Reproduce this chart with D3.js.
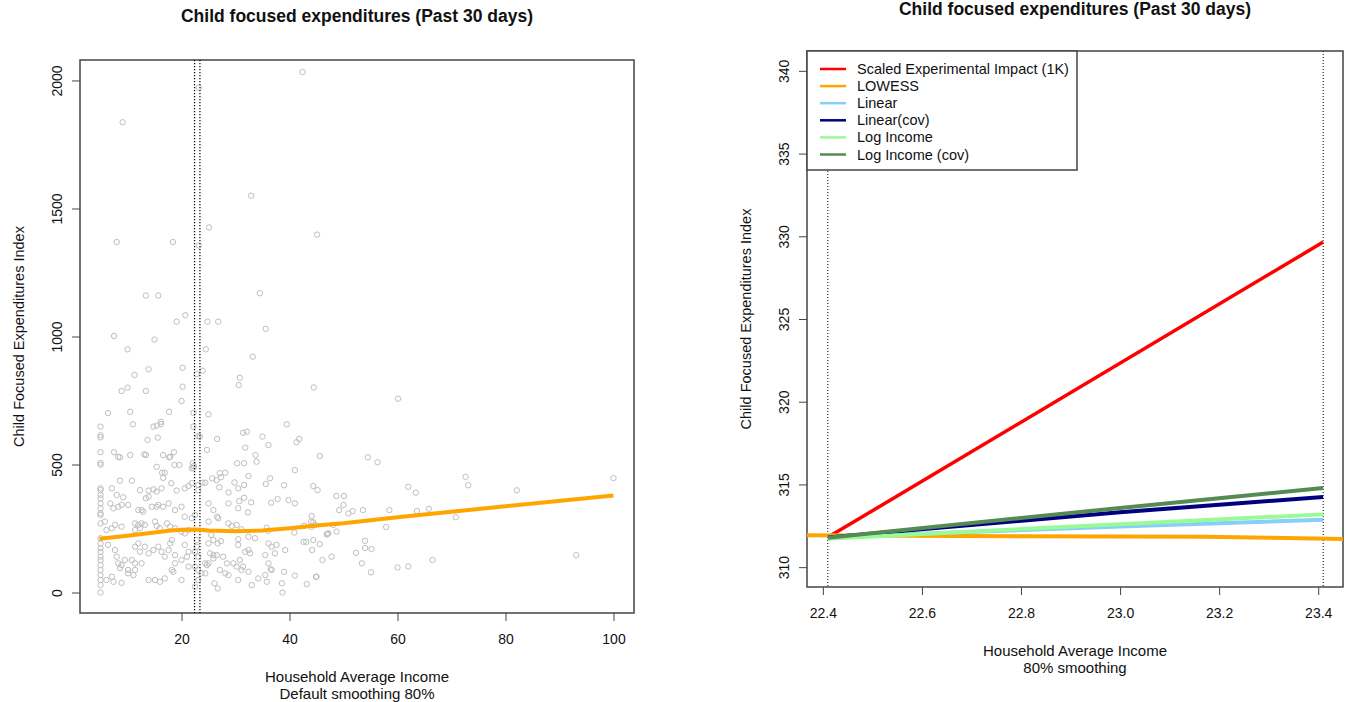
<!DOCTYPE html>
<html>
<head>
<meta charset="utf-8">
<script src="https://cdn.jsdelivr.net/npm/d3@7"></script>
<style>
  body { margin: 0; background: #fff; }
  text { font-family: "Liberation Sans", Arial, sans-serif; fill: #111; }
</style>
</head>
<body>
<div id="chart"></div>
<script>
// ---- data ----
var chartTitle = "Child focused expenditures (Past 30 days)";
var yTitle = "Child Focused Expenditures Index";

// left panel: household income vs expenditure index (scatter)
var householdPoints = [
  [9.1,1837],[42.4,2033],[23.2,1972],[32.9,1550],[25.1,1426],[45.1,1398],[8.0,1369],[18.4,1369],[23.2,1355],
  [13.4,1160],[15.7,1160],[34.5,1169],[20.7,1083],[19.1,1058],[24.8,1058],[26.8,1058],[35.6,1030],[7.5,1002],
  [15.0,988],[24.5,950],[10.0,950],[33.2,921],[11.3,850],[13.9,872],[20.2,878],[23.9,866],[22.8,853],[30.8,839],
  [30.6,810],[20.2,804],[8.9,787],[10.0,800],[13.4,787],[20.0,748],[44.5,801],[60.1,757],[6.4,701],[10.5,706],
  [17.7,706],[22.2,702],[25.0,696],[11.0,657],[5.0,648],[5.0,614],[5.0,606],[14.8,648],[15.4,652],[16.2,658],
  [16.2,667],[15.6,605],[13.7,596],[22.2,648],[23.4,609],[26.6,600],[31.4,624],[32.1,628],[35.0,609],[36.1,576],
  [39.5,657],[41.3,587],[41.8,600],[45.6,533],[24.7,557],[5.0,548],[5.0,499],[5.0,506],[7.5,548],[8.3,530],
  [8.6,528],[10.5,537],[13.4,537],[16.6,537],[17.9,530],[18.6,548],[18.7,498],[19.6,498],[21.9,485],[22.3,494],
  [22.1,505],[30.3,505],[31.6,505],[32.4,455],[33.7,537],[33.9,511],[36.4,446],[35.6,424],[39.0,419],[41.0,478],
  [44.4,416],[45.2,400],[48.7,377],[23.1,611],[31.8,566],[54.5,528],[56.3,509],[72.6,452],[73.1,419],[62.0,413],
  [63.4,390],[82.1,399],[100.0,447],
  [13.1,540],[17.7,528],[15.4,491],[16.4,468],[16.9,468],[16.6,448],[22.2,487],
  [5.0,407],[5.0,400],[5.0,381],[5.0,368],[8.6,437],[10.8,437],[7.1,407],[8.0,381],[9.2,372],[12.3,400],
  [13.9,398],[14.8,403],[15.4,394],[13.4,368],[13.9,374],[16.3,407],[18.1,427],[19.1,398],[20.6,407],[21.3,416],
  [21.9,427],[23.1,420],[23.1,400],[23.9,429],
  [5.0,348],[5.0,329],[5.0,309],[5.0,303],[6.8,348],[7.4,329],[8.3,335],[8.9,342],[10.1,342],[12.0,322],
  [12.6,322],[12.9,316],[14.5,335],[15.4,335],[15.7,342],[16.6,335],[17.6,348],[18.8,322],[20.0,335],[20.6,296],
  [21.9,290],[22.5,303],
  [5.0,270],[5.8,277],[6.1,244],[7.1,251],[7.7,264],[8.9,257],[11.4,270],[12.0,264],[12.6,270],[13.2,264],
  [11.4,244],[12.3,251],[15.1,277],[15.4,260],[16.0,251],[17.3,270],[17.9,257],[18.8,251],[20.0,237],[20.6,231],
  [21.3,244],
  [5.0,212],[5.0,192],[5.0,173],[5.0,159],[5.0,140],[5.0,127],[5.0,107],[5.0,88],[5.0,68],[5.0,49],[5.0,29],[5.0,0],
  [6.4,186],[7.7,166],[8.0,140],[8.3,114],[8.9,107],[9.5,127],[8.6,95],[10.1,88],[10.8,127],[11.4,114],
  [11.4,179],[12.0,192],[12.3,159],[13.2,179],[13.9,153],[14.8,166],[15.7,179],[16.3,159],[16.9,140],[17.6,166],
  [17.9,192],[18.2,205],[18.8,146],
  [10.1,75],[11.1,68],[11.4,88],[12.6,114],[13.9,49],[15.1,49],[16.0,42],[16.9,55],[18.2,88],[18.5,81],[20.0,49],
  [7.4,42],[8.9,38],[7.1,62],[6.1,49],
  [22.8,205],[22.8,179],[22.5,159],[23.1,140],[22.5,101],[23.1,88],[23.1,49],[22.5,23],[23.7,75],[24.4,114],
  [25.9,146],[25.9,205],[20.6,186],[21.3,159],[21.0,140],[20.0,127],[18.8,114],[21.3,101],
  [27.1,466],[28.1,468],[25.7,446],[26.5,439],[27.3,450],[24.4,429],[29.8,430],[30.5,407],[31.6,420],[27.0,411],
  [28.7,391],[31.6,370],[32.9,352],[30.7,357],[30.5,329],[32.3,313],[25.0,348],[25.9,322],[28.7,348],[36.6,351],
  [37.8,365],[39.8,361],[41.0,348],
  [26.6,296],[26.8,290],[25.0,277],[44.1,299],[44.0,277],[28.7,270],[29.3,260],[30.2,264],[31.1,247],[35.8,253],
  [36.1,241],[40.9,234],[42.7,261],[44.1,257],[44.7,264],[46.9,227],[48.1,264],
  [25.5,225],[27.3,201],[26.7,192],[25.0,192],[30.5,208],[30.5,186],[32.4,218],[33.6,212],[32.4,166],
  [36.1,192],[36.7,179],[37.6,186],[39.2,166],[37.3,153],[35.5,146],[36.1,114],[36.7,88],[35.5,68],
  [42.6,198],[43.1,198],[44.4,205],[45.6,189],[44.2,166],[46.1,127],[47.8,140],
  [25.3,153],[26.5,146],[25.9,133],[27.7,140],[28.4,114],[25.0,114],[27.1,88],[28.1,75],[28.7,68],
  [29.6,114],[30.2,101],[30.8,127],[31.8,159],[32.7,153],[31.4,101],[32.4,81],[30.5,49],[31.1,88],
  [34.2,55],[35.8,42],[33.0,29],[38.6,36],[41.0,66],[43.2,33],[45.0,62],[38.7,0],
  [26.1,36],[26.7,16],[24.4,75],[24.7,107],
  [50.1,377],[50.0,342],[49.2,322],[50.9,309],[51.7,318],[53.6,322],[58.5,322],[63.6,318],[65.8,327],[44.4,274],
  [70.8,294],[57.9,256],[47.0,229],[48.7,238],[54.0,202],[54.0,174],[55.2,170],[52.3,155],[53.4,114],[55.1,79],
  [60.0,98],[62.0,102],[66.5,127],[93.1,146],[44.9,61],[36.5,91],[39.0,81],[47.2,231]
];

// left panel: LOWESS fit
var lowessLeft = [
  [4.8,210],[10,222],[15,234],[18,242],[20,245],[23,246],[25,242],[30,239],[35,242],
  [40,251],[45,262],[50,271],[60,294],[80,337],[100,379]
];

var cutoffs = [22.41, 23.41];

var leftXTicks = [20, 40, 60, 80, 100];
var leftYTicks = [0, 500, 1000, 1500, 2000];
var leftXLabel = ["Household Average Income", "Default smoothing 80%"];

// right panel: zoomed-in fits
var seriesNames = ["Scaled Experimental Impact (1K)", "LOWESS", "Linear", "Linear(cov)", "Log Income", "Log Income (cov)"];
var seriesColors = ["#FF0000", "#FFA500", "#87CEFA", "#000080", "#98FB98", "#548B54"];
var experimental = [[22.41,311.8],[23.41,329.65]];
var lowessRight = [[22.368,311.93],[22.56,311.9],[22.8,311.87],[23.17,311.84],[23.3,311.78],[23.45,311.7]];
var linearFit = [[22.41,311.82],[23.0,312.45],[23.41,312.87]];
var linearCov = [[22.41,311.8],[23.0,313.32],[23.41,314.24]];
var logFit = [[22.41,311.72],[23.0,312.6],[23.41,313.19]];
var logCov = [[22.41,311.78],[23.0,313.58],[23.41,314.78]];
var rightSeries = [experimental, lowessRight, linearFit, linearCov, logFit, logCov];

var rightXTicks = [22.4, 22.6, 22.8, 23.0, 23.2, 23.4];
var rightYTicks = [310, 315, 320, 325, 330, 335, 340];
var rightXLabel = ["Household Average Income", "80% smoothing"];

// ---- drawing ----
var width = 1350, height = 702;
var svg = d3.select("#chart").append("svg")
  .attr("width", width)
  .attr("height", height);

var frameColor = "#444";

// scales (pixel box of each panel lives in the range)
var xL = d3.scaleLinear().domain([1.2, 103.8]).range([80, 634]);
var yL = d3.scaleLinear().domain([-80, 2080]).range([613, 60]);
var xR = d3.scaleLinear().domain([22.368, 23.45]).range([807, 1343]);
var yR = d3.scaleLinear().domain([308.8, 341.2]).range([587, 51]);

// axes, box, titles for one panel
function drawFrame(x, y, xTicks, yTicks, xFmt, title, xLabel, titleY) {
  var g = svg.append("g");
  var x0 = x.range()[0], x1 = x.range()[1];
  var y0 = y.range()[1], y1 = y.range()[0];

  g.append("g")
    .attr("transform", "translate(0," + y1 + ")")
    .call(d3.axisBottom(x).tickValues(xTicks).tickFormat(xFmt).tickSize(8).tickPadding(13).tickSizeOuter(0))
    .call(function(a) {
      a.select(".domain").remove();
      a.attr("font-size", 14).attr("font-family", null).attr("color", frameColor);
      a.selectAll("text").style("fill", "#111");
    });

  g.append("g")
    .attr("transform", "translate(" + x0 + ",0)")
    .call(d3.axisLeft(y).tickValues(yTicks).tickFormat(d3.format("d")).tickSize(8).tickSizeOuter(0))
    .call(function(a) {
      a.select(".domain").remove();
      a.attr("font-size", 14).attr("font-family", null).attr("color", frameColor);
      a.selectAll("text")
        .attr("x", 0).attr("y", -18).attr("dy", null)
        .attr("transform", "rotate(-90)")
        .attr("text-anchor", "middle")
        .style("fill", "#111");
    });

  g.append("rect")
    .attr("x", x0).attr("y", y0)
    .attr("width", x1 - x0).attr("height", y1 - y0)
    .attr("fill", "none")
    .attr("stroke", frameColor)
    .attr("stroke-width", 1.5);

  var cx = (x0 + x1) / 2;
  svg.append("text")
    .attr("x", cx).attr("y", titleY)
    .attr("text-anchor", "middle")
    .attr("font-size", 17.5).attr("font-weight", "bold")
    .text(title);

  svg.selectAll(null)
    .data(xLabel)
    .join("text")
    .attr("x", cx)
    .attr("y", function(d, i) { return y1 + 69 + i * 17; })
    .attr("text-anchor", "middle")
    .attr("font-size", 15)
    .text(function(d) { return d; });

  svg.append("text")
    .attr("transform", "translate(" + (x0 - 56) + "," + ((y0 + y1) / 2) + ") rotate(-90)")
    .attr("text-anchor", "middle")
    .attr("font-size", 14.5)
    .text(yTitle);
}

// ---------- left panel ----------
drawFrame(xL, yL, leftXTicks, leftYTicks, d3.format("d"), chartTitle, leftXLabel, 22);

svg.append("g")
  .selectAll("circle")
  .data(householdPoints)
  .join("circle")
    .attr("cx", function(d) { return xL(d[0]); })
    .attr("cy", function(d) { return yL(d[1]); })
    .attr("r", 2.7)
    .attr("fill", "none")
    .attr("stroke", "#BEBEBE")
    .attr("stroke-width", 1);

svg.append("g")
  .selectAll("line")
  .data(cutoffs)
  .join("line")
    .attr("x1", function(d) { return xL(d); })
    .attr("x2", function(d) { return xL(d); })
    .attr("y1", yL.range()[1])
    .attr("y2", yL.range()[0])
    .attr("stroke", "#000")
    .attr("stroke-width", 1.2)
    .attr("stroke-dasharray", "1.2,1.8");

var lineL = d3.line().x(function(d) { return xL(d[0]); }).y(function(d) { return yL(d[1]); });
svg.append("path")
  .attr("d", lineL(lowessLeft))
  .attr("fill", "none")
  .attr("stroke", "#FFA500")
  .attr("stroke-width", 4);

// ---------- right panel ----------
drawFrame(xR, yR, rightXTicks, rightYTicks, d3.format(".1f"), chartTitle, rightXLabel, 15);

svg.append("clipPath").attr("id", "clipR")
  .append("rect")
    .attr("x", xR.range()[0]).attr("y", yR.range()[1])
    .attr("width", xR.range()[1] - xR.range()[0])
    .attr("height", yR.range()[0] - yR.range()[1]);

svg.append("g")
  .selectAll("line")
  .data(cutoffs)
  .join("line")
    .attr("x1", function(d) { return xR(d); })
    .attr("x2", function(d) { return xR(d); })
    .attr("y1", yR.range()[1])
    .attr("y2", yR.range()[0])
    .attr("stroke", "#000")
    .attr("stroke-width", 1)
    .attr("stroke-dasharray", "1,2");

var lineR = d3.line().x(function(d) { return xR(d[0]); }).y(function(d) { return yR(d[1]); });
svg.append("g")
  .attr("clip-path", "url(#clipR)")
  .selectAll("path")
  .data(rightSeries)
  .join("path")
    .attr("d", lineR)
    .attr("fill", "none")
    .attr("stroke", function(d, i) { return seriesColors[i]; })
    .attr("stroke-width", function(d, i) { return i === 0 ? 3.5 : 4; });

// legend, top-left of the right panel
var lg = svg.append("g").attr("transform", "translate(" + xR.range()[0] + "," + yR.range()[1] + ")");
lg.append("rect")
  .attr("width", 270).attr("height", 119)
  .attr("fill", "#fff")
  .attr("stroke", frameColor)
  .attr("stroke-width", 1.5);
var rows = lg.selectAll("g.row")
  .data(seriesNames)
  .join("g")
    .attr("class", "row")
    .attr("transform", function(d, i) { return "translate(0," + (18 + i * 17.1) + ")"; });
rows.append("line")
  .attr("x1", 13).attr("x2", 39)
  .attr("stroke", function(d, i) { return seriesColors[i]; })
  .attr("stroke-width", 2.5);
rows.append("text")
  .attr("x", 50).attr("y", 5)
  .attr("font-size", 14.5)
  .text(function(d) { return d; });
</script>
</body>
</html>
